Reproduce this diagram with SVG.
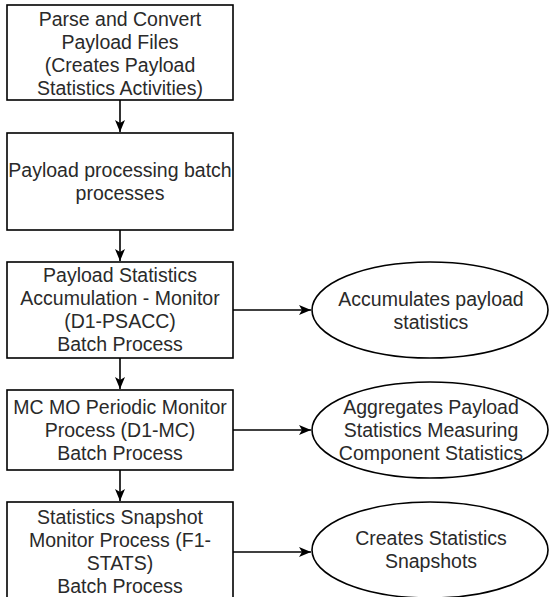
<svg xmlns="http://www.w3.org/2000/svg" width="550" height="597" viewBox="0 0 550 597">
<defs>
<style>
.box{fill:#fff;stroke:#000;stroke-width:1.6}
.ell{fill:#fff;stroke:#000;stroke-width:1.6}
.t{font-family:"Liberation Sans",Arial,sans-serif;font-size:19.5px;fill:#2a2a2a;text-anchor:middle}
.c{fill:none;stroke:#000;stroke-width:1.6}
</style>
<marker id="arr" markerUnits="userSpaceOnUse" markerWidth="13" markerHeight="11" refX="12" refY="5" orient="auto">
<path d="M0,0 L12,5 L0,10 L3,5 Z" fill="#000"/>
</marker>
</defs>
<rect width="550" height="597" fill="#fff"/>
<g id="connectors">
<line class="c" x1="120" y1="100" x2="120" y2="132" marker-end="url(#arr)"/>
<line class="c" x1="120" y1="230" x2="120" y2="261" marker-end="url(#arr)"/>
<line class="c" x1="120" y1="358" x2="120" y2="389" marker-end="url(#arr)"/>
<line class="c" x1="120" y1="470" x2="120" y2="501" marker-end="url(#arr)"/>
<line class="c" x1="233" y1="310" x2="311" y2="310" marker-end="url(#arr)"/>
<line class="c" x1="233" y1="430" x2="311" y2="430" marker-end="url(#arr)"/>
<line class="c" x1="233" y1="552" x2="311" y2="552" marker-end="url(#arr)"/>
</g>
<g id="n1">
<rect class="box" x="7" y="5" width="226" height="95"/>
<text class="t" x="120"><tspan x="120" y="26">Parse and Convert</tspan><tspan x="120" y="49">Payload Files</tspan><tspan x="120" y="72">(Creates Payload</tspan><tspan x="120" y="95">Statistics Activities)</tspan></text>
</g>
<g id="n2">
<rect class="box" x="7" y="133" width="226" height="97"/>
<text class="t" x="120"><tspan x="120" y="177">Payload processing batch</tspan><tspan x="120" y="200">processes</tspan></text>
</g>
<g id="n3">
<rect class="box" x="7" y="262" width="226" height="96"/>
<text class="t" x="120"><tspan x="120" y="282">Payload Statistics</tspan><tspan x="120" y="305">Accumulation - Monitor</tspan><tspan x="120" y="328">(D1-PSACC)</tspan><tspan x="120" y="351">Batch Process</tspan></text>
</g>
<g id="n4">
<rect class="box" x="7" y="390" width="226" height="80"/>
<text class="t" x="120"><tspan x="120" y="414">MC MO Periodic Monitor</tspan><tspan x="120" y="437">Process (D1-MC)</tspan><tspan x="120" y="460">Batch Process</tspan></text>
</g>
<g id="n5">
<rect class="box" x="7" y="502" width="226" height="100"/>
<text class="t" x="120"><tspan x="120" y="524">Statistics Snapshot</tspan><tspan x="120" y="547">Monitor Process (F1-</tspan><tspan x="120" y="570">STATS)</tspan><tspan x="120" y="593">Batch Process</tspan></text>
</g>
<g id="e1">
<ellipse class="ell" cx="430" cy="310" rx="118" ry="48"/>
<text class="t" x="431"><tspan x="431" y="306">Accumulates payload</tspan><tspan x="431" y="329">statistics</tspan></text>
</g>
<g id="e2">
<ellipse class="ell" cx="430" cy="430" rx="118" ry="48"/>
<text class="t" x="431"><tspan x="431" y="414">Aggregates Payload</tspan><tspan x="431" y="437">Statistics Measuring</tspan><tspan x="431" y="460">Component Statistics</tspan></text>
</g>
<g id="e3">
<ellipse class="ell" cx="430" cy="550" rx="118" ry="48"/>
<text class="t" x="431"><tspan x="431" y="545">Creates Statistics</tspan><tspan x="431" y="568">Snapshots</tspan></text>
</g>
</svg>
